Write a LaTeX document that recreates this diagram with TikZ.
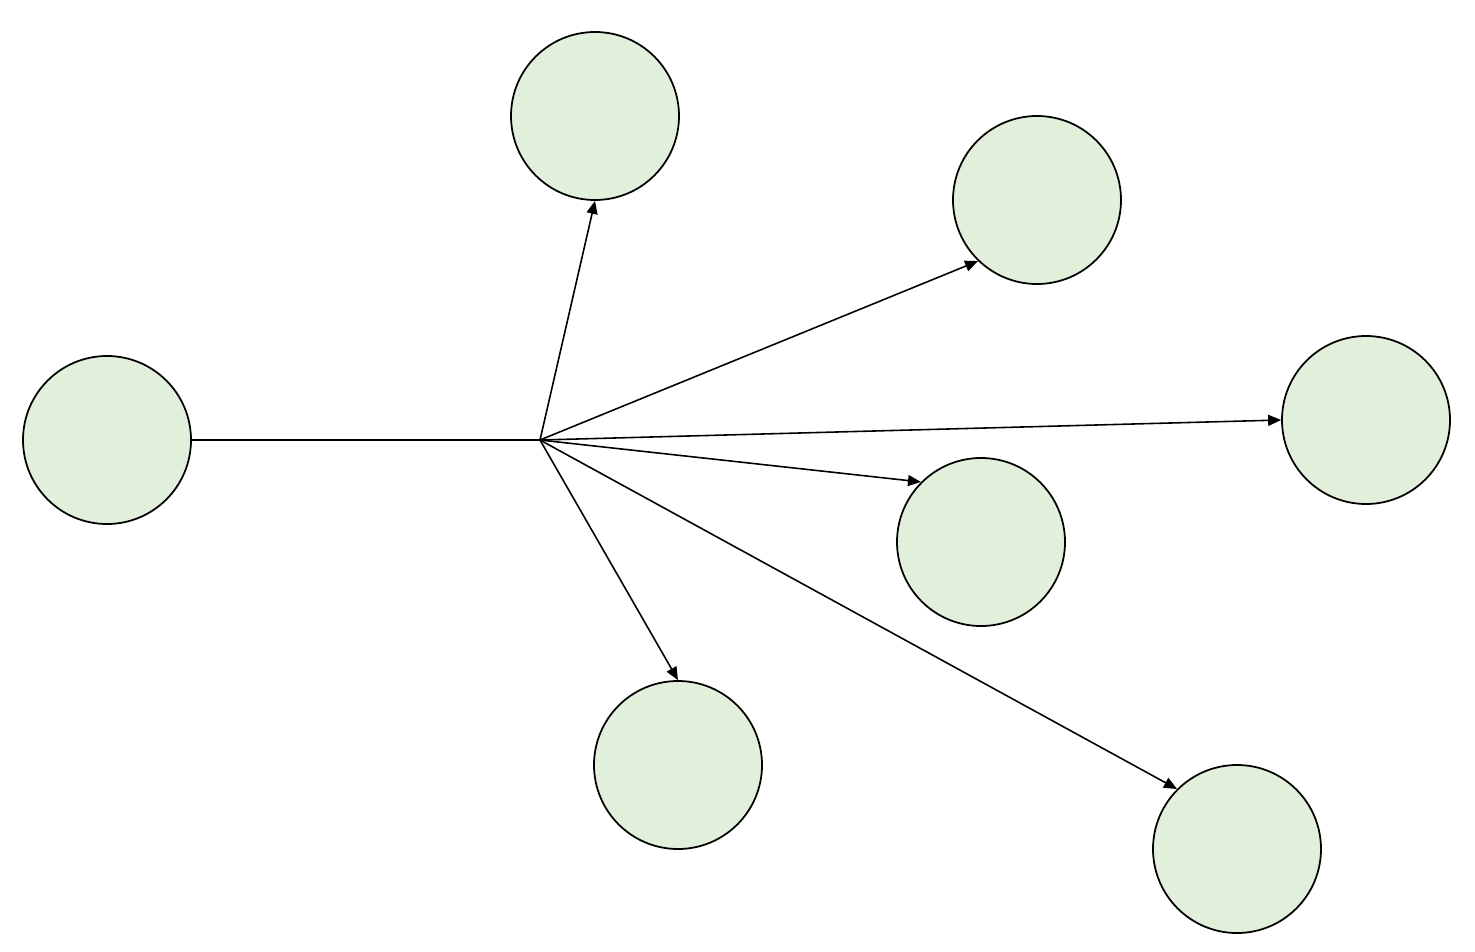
\documentclass[tikz,border=0pt]{standalone}
\usepackage{tikz}
\usetikzlibrary{arrows.meta,positioning}
\definecolor{bubblegreen}{HTML}{E2EFDA}
\tikzset{
  bubble/.style={circle,draw=black,fill=bubblegreen,minimum size=3.36cm,inner sep=0pt,line width=1pt},
  flow/.style={-{Triangle[length=2.6mm,width=2.2mm]},line width=.9pt},
  spoke/.style={line width=.9pt},
}

\begin{document}
\begin{tikzpicture}
		\useasboundingbox (0,0) rectangle (29.5,-19.02);
		\node[bubble] (src) at (2.14,-8.80) {};
		\node[bubble] (top) at (11.90,-2.32) {};
		\node[bubble] (ur) at (20.74,-4.00) {};
		\node[bubble] (rt) at (27.32,-8.40) {};
		\node[bubble] (mr) at (19.62,-10.84) {};
		\node[bubble] (bot) at (13.56,-15.30) {};
		\node[bubble] (br) at (24.74,-16.98) {};
		\coordinate (hub) at (10.80,-8.80);
		\draw[spoke] (src)--(hub);
		\draw[flow] (hub)--(top.270); \draw[flow] (hub)--(ur.226);
		\draw[flow] (hub)--(rt.180); \draw[flow] (hub)--(mr.135);
		\draw[flow] (hub)--(bot.90); \draw[flow] (hub)--(br.135);
	\end{tikzpicture}
\end{document}
